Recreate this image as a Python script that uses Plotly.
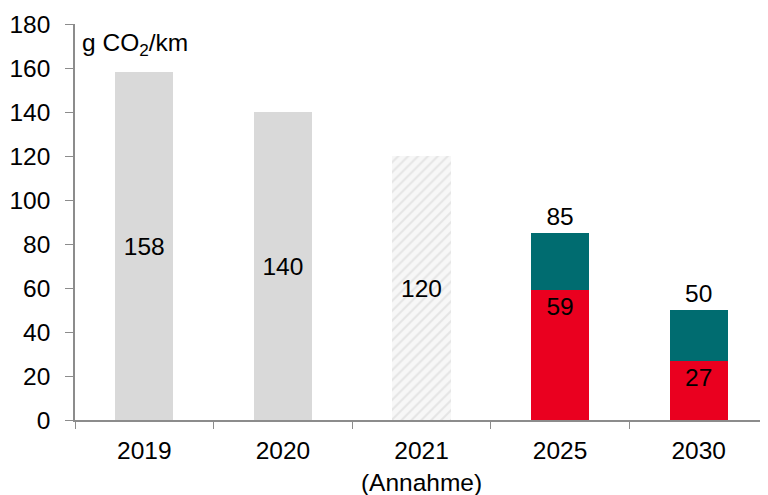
import plotly.graph_objects as go

categories = ["2019", "2020", "2021<br>(Annahme)", "2025", "2030"]
grey_cats = ["2019", "2020"]
grey_vals = [158, 140]
hatch_cats = ["2021<br>(Annahme)"]
hatch_vals = [120]
target_cats = ["2025", "2030"]
red_vals = [59, 27]
teal_vals = [26, 23]
totals = [85, 50]

FONT = "Liberation Sans, Arial, sans-serif"
FS = 24.5
W = 0.42

fig = go.Figure()
fig.add_trace(go.Bar(
    x=grey_cats, y=grey_vals, width=W,
    marker=dict(color="#D9D9D9", line=dict(width=0)),
    text=[str(v) for v in grey_vals], textposition="inside", insidetextanchor="middle",
    textfont=dict(size=FS, color="black", family=FONT), showlegend=False))
fig.add_trace(go.Bar(
    x=hatch_cats, y=hatch_vals, width=W,
    marker=dict(color="#F4F4F4", line=dict(width=0),
                pattern=dict(shape="/", fgcolor="#D2D2D2", bgcolor="#F7F7F7", size=7, solidity=0.3)),
    text=[str(v) for v in hatch_vals], textposition="inside", insidetextanchor="middle",
    textfont=dict(size=FS, color="black", family=FONT), showlegend=False))
fig.add_trace(go.Bar(
    x=target_cats, y=red_vals, width=W,
    marker=dict(color="#EA001F", line=dict(width=0)),
    text=[str(v) for v in red_vals], textposition="inside", insidetextanchor="end",
    textfont=dict(size=FS, color="black", family=FONT), showlegend=False))
fig.add_trace(go.Bar(
    x=target_cats, y=teal_vals, width=W,
    marker=dict(color="#006C70", line=dict(width=0)),
    text=[str(v) for v in totals], textposition="outside", cliponaxis=False,
    textfont=dict(size=FS, color="black", family=FONT), showlegend=False))

fig.update_layout(
    barmode="stack",
    width=760, height=487,
    margin=dict(l=67, r=0, t=16, b=75),
    paper_bgcolor="white", plot_bgcolor="white",
    font=dict(family=FONT, size=FS, color="black"),
)
fig.update_xaxes(
    categoryorder="array", categoryarray=categories, automargin=False,
    showline=True, linecolor="#8C8C8C", linewidth=1.5,
    ticks="outside", tickson="boundaries", ticklen=7, tickcolor="#8C8C8C",
    ticklabelstandoff=8,
    tickfont=dict(size=FS, color="black", family=FONT), showgrid=False)
fig.update_yaxes(
    range=[0, 180], dtick=20, automargin=False,
    showline=True, linecolor="#8C8C8C", linewidth=1.5,
    ticks="outside", ticklen=8, tickcolor="#8C8C8C",
    ticklabelstandoff=10,
    tickfont=dict(size=FS, color="black", family=FONT), showgrid=False, zeroline=False)
fig.add_annotation(
    text="g CO<sub>2</sub>/km", xref="paper", yref="paper", x=0.007, y=0.947,
    xanchor="left", yanchor="middle", showarrow=False,
    font=dict(size=FS, color="black", family=FONT))

fig.write_html("out.html")
